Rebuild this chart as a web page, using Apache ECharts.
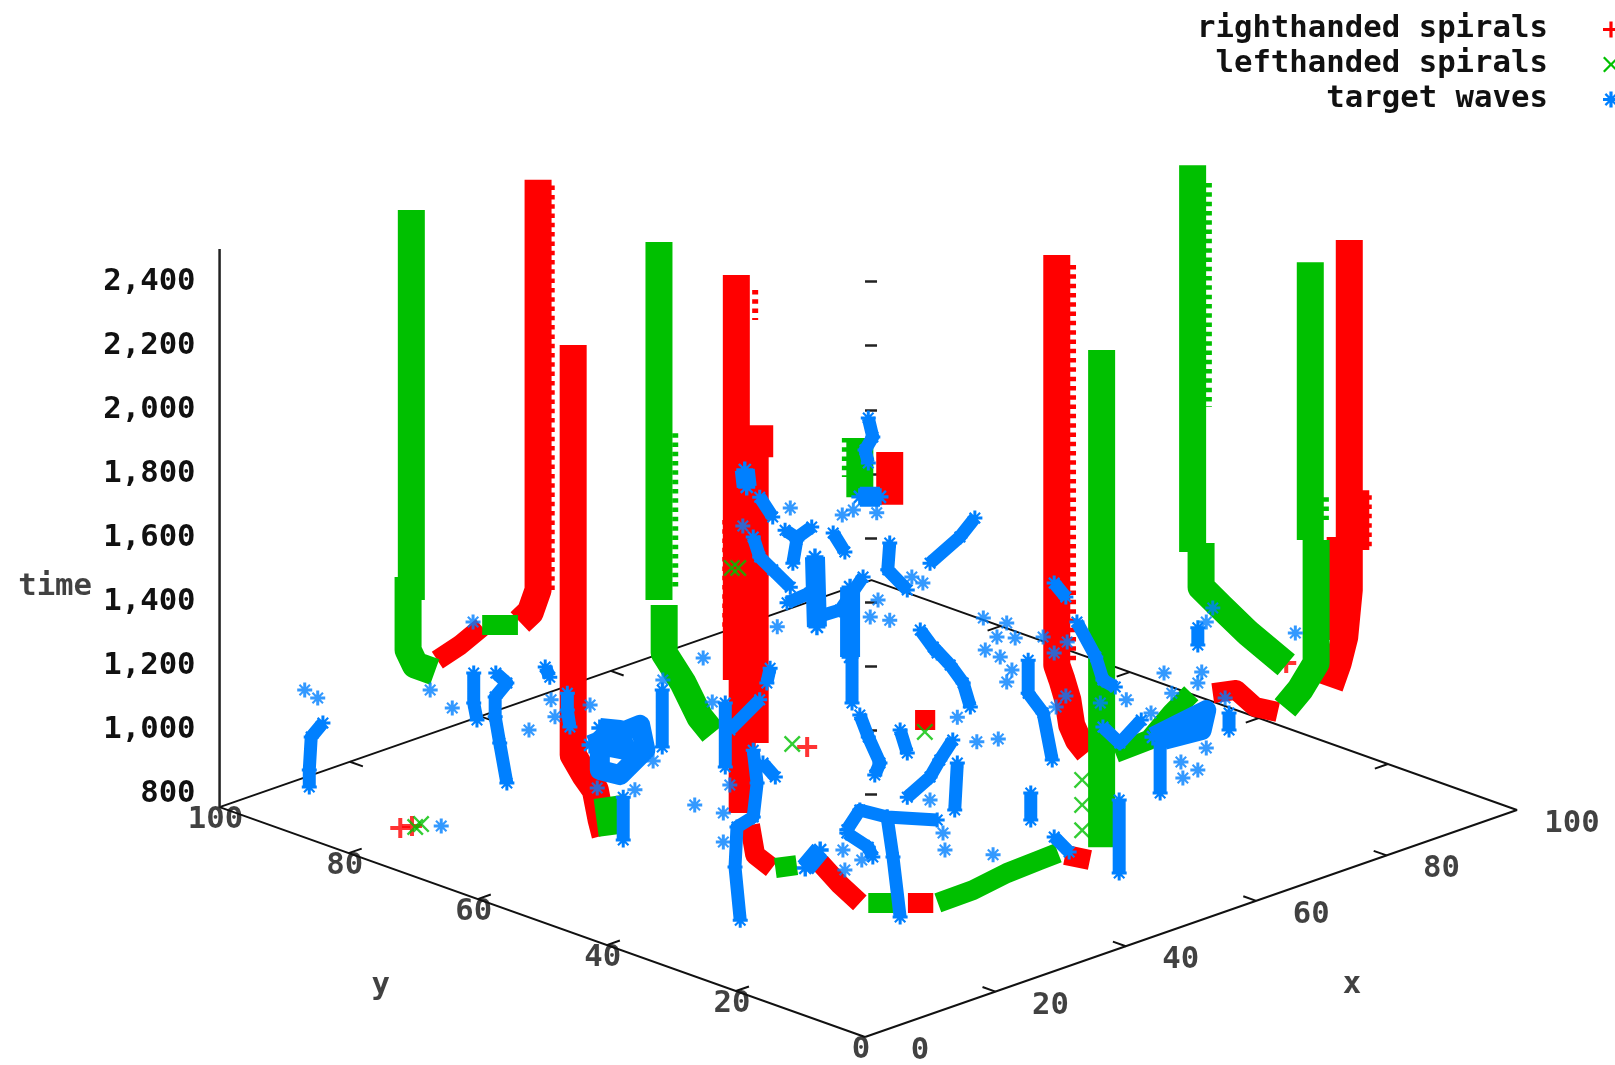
<!DOCTYPE html>
<html><head><meta charset="utf-8">
<style>html,body{margin:0;padding:0;background:#fff;overflow:hidden}#chart{width:1615px;height:1065px;filter:blur(0.5px)}</style>
<script src="https://cdn.jsdelivr.net/npm/echarts@6/dist/echarts.min.js"></script>
</head><body><div id="chart"></div>
<script>
// View-plane values: across = x - y, height = time-equivalent height.
const timeTicks=[800,1000,1200,1400,1600,1800,2000,2200,2400];
const baseTicks=[20,40,60,80];
const baseLabels=[0,20,40,60,80,100];
const redWide=[
[[-50.3,2718],[-50.3,1437],[-51.5,1368],[-53.1,1337]],
[[-44.9,2202],[-44.9,922],[-43.1,859],[-41.5,813],[-40.6,719],[-40,672]],
[[-19.8,2421],[-19.8,1156]],
[[-16.2,1952],[-16.2,1852]],
[[-16.9,1852],[-16.9,959]],
[[-18.9,1156],[-18.9,741]],
[[29.5,2483],[29.5,1203],[30.3,1156],[31.2,1094],[31.8,1015],[32.8,969],[34.3,931]],
[[74.5,2530],[74.5,1437],[73.8,1290],[72.8,1209],[71.5,1134]],
[[75.5,1749],[75.5,1562]],
[[73.1,1603],[73.1,1281]],
[[3.8,1868],[3.8,1703]]
];
const redNarrow=[
[[-65.8,1218],[-62.3,1265],[-58.9,1322]],
[[-17.7,703],[-16.9,610],[-14.3,569]],
[[-6.9,585],[-3.8,516],[-0.8,460]],
[[6.6,460],[10.5,460]],
[[53.5,1115],[57.1,1125],[60,1072],[63.5,1056]],
[[30.8,610],[34.6,594]],
[[7.7,1031],[10.8,1031]]
];
const redFringe=[
[[-48.2,2700],[-48.2,1437]],
[[-21.5,1656],[-21.5,1322]],
[[32,2452],[32,1203]],
[[-16.9,2374],[-16.9,2280]],
[[77.5,1733],[77.5,1568]]
];
const redPoints=[[-71.5,694],[-69.7,700],[-8.9,947],[64.8,1209]];
const greenWide=[
[[-69.8,2624],[-69.8,1406]],
[[-70.3,1478],[-70.3,1250],[-69.2,1203],[-66.2,1181]],
[[-31.7,2524],[-31.7,1406]],
[[-30.9,1390],[-30.9,1240],[-28,1147],[-25.4,1040],[-23.4,990]],
[[-39.7,790],[-38.9,672]],
[[-0.8,1912],[-0.8,1727]],
[[50.4,2764],[50.4,1556]],
[[51.7,1584],[51.7,1446],[54.8,1384],[58.9,1303],[64.8,1203]],
[[68.5,2461],[68.5,1593]],
[[69.4,1593],[69.4,1209],[66.9,1125],[64.6,1069]],
[[36.4,2187],[36.4,634]]
];
const greenNarrow=[
[[-58.9,1328],[-53.4,1328]],
[[0.5,460],[4.3,460]],
[[11.2,460],[16.6,500],[21.8,553],[26.9,594],[29.7,616]],
[[38.5,928],[43.7,969],[47.2,1053],[50.2,1115]],
[[-13.8,569],[-10.5,578]]
];
const greenFringe=[
[[-29.2,1927],[-29.2,1447]],
[[52.9,2708],[52.9,2009]],
[[70.9,1727],[70.9,1656]],
[[-3.1,1912],[-3.1,1790]]
];
const greenPoints=[[-68.3,706],[-69.2,697],[-11.2,956],[9.2,994],[-20.5,1506],[-19.5,1506],[33.4,844],[33.4,766],[33.4,687]];
const blueThin=[
[[-83.4,1022],[-85.2,978],[-85.5,875],[-85.5,822]],
[[-60.2,1178],[-60.2,1084],[-59.7,1031]],
[[-56.8,1178],[-55.1,1147],[-56.9,1103],[-56.9,1041],[-56.2,959],[-55.1,834]],
[[-49.2,1197],[-48.5,1165]],
[[-45.8,1115],[-45.8,1062],[-45.4,1009]],
[[-37.2,790],[-37.2,656]],
[[-31.2,1125],[-31.2,947]],
[[-21.5,1084],[-21.5,884]],
[[-16.2,1094],[-20.8,1000]],
[[-14.6,1193],[-15.1,1147]],
[[-17.2,937],[-16.6,834],[-17.2,728],[-19.7,697],[-20,572],[-19.2,406]],
[[-15.7,897],[-13.8,853]],
[[-2,1281],[-2,1084]],
[[-0.8,1047],[0.5,978],[2.3,897],[1.5,859]],
[[10.5,1259],[13.1,1203],[15.1,1147],[16.2,1072]],
[[5.4,1000],[6.5,928]],
[[13.5,969],[11.5,906],[10,853],[6.5,790]],
[[14.2,897],[13.8,750]],
[[-2.8,688],[-0.8,750],[3.4,728],[4.3,603],[5.4,416]],
[[3.4,728],[11.1,719]],
[[-2.8,678],[0.5,634],[1.2,603]],
[[25.5,803],[25.5,719]],
[[25.1,1218],[25.1,1115],[27.4,1053],[28.8,906]],
[[-16.2,1727],[-14.2,1665]],
[[-17.2,1603],[-16.2,1540],[-14.2,1500],[-11.5,1446]],
[[-12.3,1624],[-10.5,1600],[-8.2,1634]],
[[-10.5,1593],[-11.1,1521]],
[[-4.9,1615],[-3.1,1556]],
[[-12,1397],[-8.5,1428]],
[[0.5,1974],[1.2,1915],[0,1874],[0.5,1834]],
[[3.8,1584],[3.5,1500],[6.5,1437]],
[[-0.3,1478],[-3.8,1375],[-7.4,1353]],
[[10,1521],[14.6,1603],[16.9,1662]],
[[8.5,1312],[11.1,1240]],
[[29.1,1459],[30.9,1415]],
[[32.6,1337],[35.5,1228],[36.6,1156],[38.5,1134]],
[[36.6,1009],[39.2,959],[42.5,1031]],
[[45.4,959],[45.4,803]],
[[51.2,1319],[51.2,1265]],
[[56,1053],[56,1000]],
[[39.1,781],[39.1,553]],
[[29.1,666],[31.4,619]]
];
const blueThick=[
[[-42.3,953],[-34.6,1016],[-33.8,938],[-37.7,859],[-40.8,875],[-40.8,953],[-36.9,938],[-37.7,1000],[-40.8,1006]],
[[-9.2,569],[-6.9,625]],
[[-18.5,1812],[-18.2,1759]],
[[-7.7,1540],[-7.4,1322]],
[[-0.8,1728],[2.3,1728]],
[[-2.3,1446],[-2.3,1228]],
[[44.3,978],[52.5,1062],[51.8,1000],[46,969]]
];
const bluePoints=[[-86.2,1125],[-84.2,1100],[-65.2,700],[-66.9,1125],[-63.5,1069],[-60.3,1337],[-51.7,1000],[-48.3,1094],[-47.7,1041],[-42.3,1078],[-32.6,903],[-35.4,813],[-41.2,819],[-31.1,1156],[-24.9,1225],[-26.2,766],[-23.5,1087],[-20.8,828],[-21.8,741],[-21.8,650],[-11.5,1693],[-18.8,1637],[-3.5,1671],[1.8,1678],[-1.8,1687],[2,1406],[3.8,1343],[0.8,1353],[-13.5,1322],[8.9,1459],[7.2,1478],[18.2,1350],[21.8,1334],[20.3,1290],[23.1,1287],[18.5,1250],[20.8,1228],[22.6,1187],[21.8,1150],[27.4,1290],[31.1,1275],[29.1,1240],[36.2,1084],[40.2,1094],[46,1178],[51.8,1181],[29.4,1072],[30.9,1106],[44,1053],[51.2,1147],[53.5,1381],[52.5,1337],[47.2,1115],[48.6,900],[51.2,875],[52.5,944],[48.9,850],[66.2,1303],[55.4,1100],[-3.4,625],[-0.5,594],[12,678],[12.3,625],[19.7,610],[-3.1,563],[14.2,1040],[17.2,963],[20.5,972],[10,781]];
const axisTitles=[{name:'time',value:[-124.6,1446]},{name:'y',value:[-74.5,200]},{name:'x',value:[74.9,203]}];

const RED='#ff0000',GREEN='#00c000',BLUE='#0080ff',INK='#111';
const FONT='"DejaVu Sans Mono"';
const plus='path://M4 0H6V4H10V6H6V10H4V6H0V4H4Z';
const cross='path://M1 0L5 4L9 0L10 1L6 5L10 9L9 10L5 6L1 10L0 9L4 5L0 1Z';
const star='path://M4 0H6V10H4Z M0 4H10V6H0Z M1 2L2 1L9 8L8 9Z M8 1L9 2L2 9L1 8Z M3 3H7V7H3Z';
const names=['righthanded spirals','lefthanded spirals','target waves'];
const project=(x,y)=>[1.003*x-0.993*y,41+7.09*x+7.18*y];
const flat=t=>t.flatMap(p=>[...p,[null,null]]);
const corners=[[0,0],[100,0],[100,100],[0,100],[0,0]].map(c=>project(c[0],c[1]));
const tickSegs=baseTicks.flatMap(v=>[
 [project(v,0),project(v,2)],[project(v,100),project(v,98)],
 [project(0,v),project(2,v)],[project(100,v),project(98,v)]]);
const common={type:'line',silent:true,showSymbol:false,symbol:'none',smooth:false,animation:false,connectNulls:false};
const trail=(name,data,color,w,z,extra)=>Object.assign({},common,{name,data:flat(data),z,itemStyle:{color},
  lineStyle:Object.assign({color,width:w,cap:'butt',join:'round'},extra||{})});
const pts=(name,data,color,sym,size,z)=>({type:'scatter',name,data,symbol:sym,symbolSize:size,z,silent:true,itemStyle:{color},animation:false});
const labelSeries=(data,off)=>({type:'scatter',data,symbolSize:1,itemStyle:{color:'transparent'},silent:true,z:20,
  label:{show:true,position:'inside',offset:off,formatter:p=>p.name,color:INK,fontFamily:FONT,fontWeight:'bold',fontSize:30.7}});
const series=[
 Object.assign({},common,{data:[...corners],z:1,lineStyle:{color:INK,width:2},itemStyle:{color:INK}}),
 Object.assign({},common,{data:flat(tickSegs),z:1,lineStyle:{color:INK,width:2},itemStyle:{color:INK}}),
 Object.assign({},common,{data:[[-99.3,759],[-99.3,2502]],z:1,lineStyle:{color:'#222',width:2.5},itemStyle:{color:INK}}),
 trail(names[0],redFringe,RED,6,5,{type:[4.5,4.8]}),
 trail(names[0],redWide,RED,27,5),
 trail(names[0],redNarrow,RED,20,5),
 pts(names[0],redPoints,RED,plus,20,5),
 trail(names[1],greenFringe,GREEN,6,6,{type:[4.5,4.8]}),
 trail(names[1],greenWide,GREEN,27,6),
 trail(names[1],greenNarrow,GREEN,20,6),
 pts(names[1],greenPoints,GREEN,cross,17,6),
 Object.assign(trail(names[2],blueThin,BLUE,13,7),{showSymbol:true,symbol:star,symbolSize:15}),
 Object.assign(trail(names[2],blueThick,BLUE,20,7),{showSymbol:true,symbol:star,symbolSize:17}),
 pts(names[2],bluePoints,BLUE,star,15,7),
 labelSeries(baseLabels.map(v=>({name:String(v),value:project(v,0)})),[55,14]),
 labelSeries(baseLabels.map(v=>({name:String(v),value:project(0,v)})),[-4,13]),
 labelSeries(axisTitles,[0,0])
];
const chart=echarts.init(document.getElementById('chart'),null,{renderer:'canvas'});
chart.setOption({
 animation:false,backgroundColor:'#fff',tooltip:{show:false},
 grid:{left:0,right:0,top:0,bottom:0,containLabel:false},
 xAxis:{type:'value',min:-133.08,max:115.38,show:false,splitLine:{show:false}},
 yAxis:{type:'value',min:-46.3,max:3279.7,position:'left',offset:-219.6,
  axisLine:{show:false},splitLine:{show:false},
  axisTick:{show:true,inside:true,length:12,customValues:timeTicks,lineStyle:{color:'#222',width:2.5}},
  axisLabel:{show:true,margin:24,customValues:timeTicks,color:INK,fontFamily:FONT,fontWeight:'bold',fontSize:30.7}},
 legend:{orient:'vertical',right:-9,top:7,align:'right',itemGap:0,itemWidth:16,itemHeight:16,selectedMode:false,
  textStyle:{color:INK,fontFamily:FONT,fontWeight:'bold',fontSize:30.7,lineHeight:35,width:400,align:'right',padding:[0,50,0,0]},
  data:[{name:names[0],icon:plus,itemStyle:{color:RED}},{name:names[1],icon:cross,itemStyle:{color:GREEN}},{name:names[2],icon:star,itemStyle:{color:BLUE}}]},
 series
});
</script></body></html>
